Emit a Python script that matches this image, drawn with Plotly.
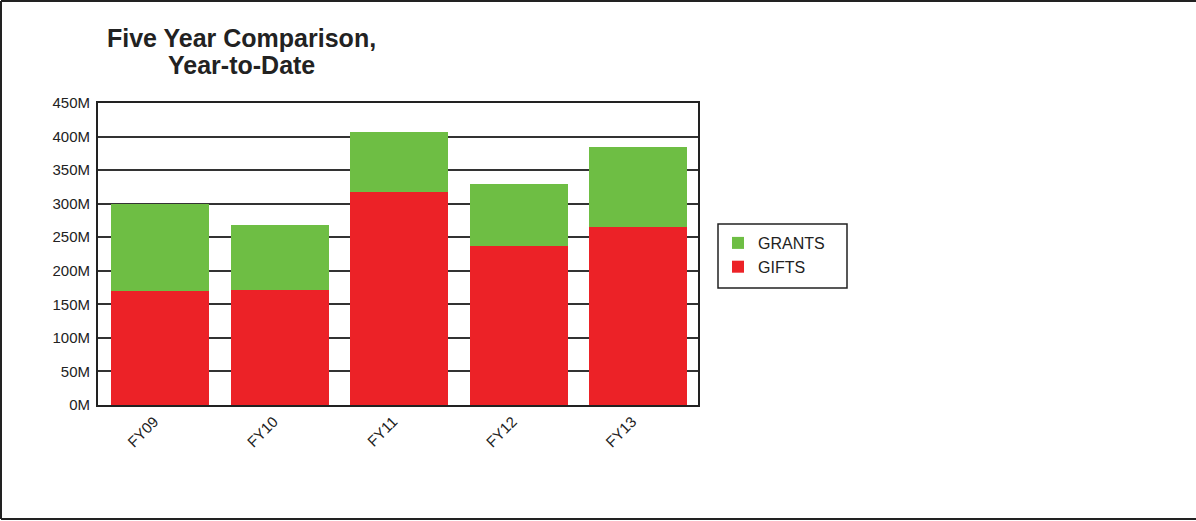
import plotly.graph_objects as go

categories = ["FY09", "FY10", "FY11", "FY12", "FY13"]
gifts = [170, 172, 317, 237, 265]
grants = [130, 96, 90, 92, 119]
y_ticks = [0, 50, 100, 150, 200, 250, 300, 350, 400, 450]
y_tick_labels = [f"{v}M" for v in y_ticks]

fig = go.Figure()
fig.add_trace(go.Bar(x=categories, y=gifts, name="GIFTS", marker=dict(color="#EC2227", line=dict(width=0))))
fig.add_trace(go.Bar(x=categories, y=grants, name="GRANTS", marker=dict(color="#6EBE44", line=dict(width=0))))

font_family = "Liberation Sans, Arial, sans-serif"
W, H = 1196, 521
L, R, T, B = 98, 498, 103, 116
pw = W - L - R
ph = H - T - B

def px_x(p):
    return (p - L) / pw

def px_y(p):
    return (H - B - p) / ph

fig.update_layout(
    width=W, height=H,
    barmode="stack",
    bargap=0.18,
    paper_bgcolor="white",
    plot_bgcolor="white",
    margin=dict(l=L, r=R, t=T, b=B, autoexpand=False),
    font=dict(family=font_family, size=15, color="#222"),
    showlegend=True,
    legend=dict(
        traceorder="reversed",
        x=px_x(718), xanchor="left",
        y=px_y(226), yanchor="top",
        borderwidth=0,
        bgcolor="rgba(0,0,0,0)",
        font=dict(size=16, color="#222", family=font_family),
        itemwidth=30,
    ),
    xaxis=dict(
        range=[-0.519, 4.502],
        showline=True, linecolor="#222", linewidth=2, mirror=True,
        tickangle=-45, ticks="", showgrid=False,
        ticklabelshift=-6,
        tickfont=dict(size=15, color="#222"),
    ),
    yaxis=dict(
        range=[0, 450],
        tickvals=y_ticks, ticktext=y_tick_labels,
        showline=True, linecolor="#222", linewidth=2, mirror=True,
        showgrid=True, gridcolor="#333", gridwidth=2,
        ticks="", zeroline=False,
        ticklabelstandoff=3,
        tickfont=dict(size=15, color="#222"),
    ),
)

for txt, yc in [("Five Year Comparison,", 38), ("Year-to-Date", 65)]:
    fig.add_annotation(
        text=f"<b>{txt}</b>",
        xref="paper", yref="paper",
        x=px_x(241), y=px_y(yc),
        xanchor="center", yanchor="middle",
        showarrow=False, align="center",
        font=dict(size=25, color="#222", family=font_family),
    )

# legend box
fig.add_shape(type="rect", xref="paper", yref="paper",
              x0=px_x(718), y0=px_y(224), x1=px_x(847), y1=px_y(288),
              line=dict(color="#222", width=1.5), fillcolor="rgba(0,0,0,0)", layer="above")

# outer frame (left, top, bottom)
for x0, y0, x1, y1 in [
    (1, 1, 1, 519),
    (1, 1, 1196, 1),
    (1, 519, 1196, 519),
]:
    fig.add_shape(type="line", xref="paper", yref="paper",
                  x0=px_x(x0), y0=px_y(y0), x1=px_x(x1), y1=px_y(y1),
                  line=dict(color="#222", width=2), layer="above")

fig.write_html("out.html", config={"displayModeBar": False},
               post_script="document.body.style.margin='0';")
